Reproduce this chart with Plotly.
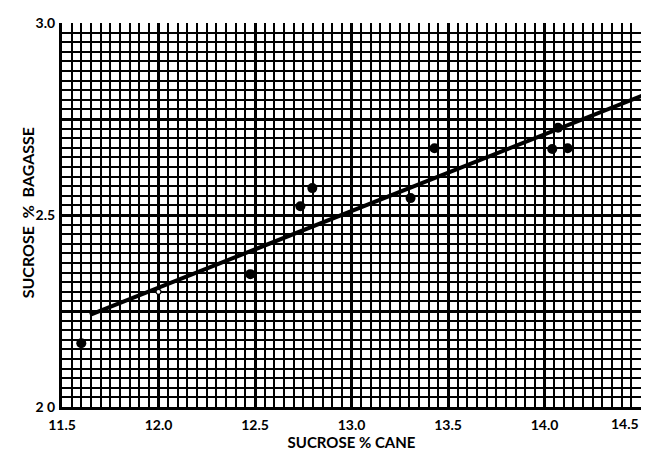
import plotly.graph_objects as go

# Data
cane_filled = [11.60, 12.476, 12.735, 12.797, 13.306, 13.43, 14.04, 14.07, 14.12]
bagasse_filled = [2.166, 2.346, 2.523, 2.570, 2.544, 2.674, 2.672, 2.727, 2.674]
cane_open = [12.00]
bagasse_open = [2.300]
fit_cane = [11.645, 14.515]
fit_bagasse = [2.240, 2.8125]

x_tickvals = [11.5, 12.0, 12.5, 13.0, 13.5, 14.0, 14.5]
x_ticktext = ["11.5", "12.0", "12.5", "13.0", "13.5", "14.0", ""]
x_last_val = 14.5
x_last_text = "14.5"
y_tickvals = [2.0, 2.25, 2.5, 2.75, 3.0]
y_ticktext = ["2 0", "", "2.5", "", "3.0"]

FONT = "Lato"

fig = go.Figure()
fig.add_trace(go.Scatter(
    x=fit_cane, y=fit_bagasse, mode="lines",
    line=dict(color="black", width=4), cliponaxis=False, showlegend=False))
fig.add_trace(go.Scatter(
    x=cane_filled, y=bagasse_filled, mode="markers",
    marker=dict(color="black", size=10, line=dict(width=0)), showlegend=False))
fig.add_trace(go.Scatter(
    x=cane_open, y=bagasse_open, mode="markers",
    marker=dict(color="white", size=5, line=dict(color="black", width=1.2)),
    showlegend=False))

fig.update_layout(
    width=646, height=454,
    margin=dict(l=62, r=5, t=23, b=47, autoexpand=False),
    paper_bgcolor="white", plot_bgcolor="white",
    font=dict(family=FONT, color="black", size=13),
    xaxis=dict(
        range=[11.5, 14.5], tickvals=x_tickvals, ticktext=x_ticktext,
        showgrid=True, gridcolor="black", gridwidth=2.6,
        minor=dict(dtick=0.05, tick0=11.5, showgrid=True, gridcolor="black", gridwidth=1.8),
        showline=True, linecolor="black", linewidth=3, mirror=False,
        ticks="", zeroline=False, automargin=False, ticklabeloverflow="allow",
        ticklabelstandoff=3,
        tickfont=dict(family=FONT, size=14, color="black", weight="bold"),
        title=dict(text="SUCROSE % CANE", font=dict(family=FONT, size=15, color="black", weight="bold"), standoff=5),
    ),
    yaxis=dict(
        range=[2.0, 3.0], tickvals=y_tickvals, ticktext=y_ticktext,
        showgrid=True, gridcolor="black", gridwidth=2.6,
        minor=dict(dtick=0.025, tick0=2.0, showgrid=True, gridcolor="black", gridwidth=1.8),
        showline=True, linecolor="black", linewidth=3, mirror=False,
        ticks="", zeroline=False, ticklabelstandoff=1, automargin=False,
        ticklabeloverflow="allow",
        tickfont=dict(family=FONT, size=14, color="black", weight="bold"),
        title=dict(text=""),
    ),
    annotations=[
        dict(
            text="SUCROSE\u00a0\u00a0%\u00a0\u00a0BAGASSE", textangle=-90, showarrow=False,
            xref="paper", yref="paper", x=-0.06, y=0.505, xanchor="center", yanchor="middle",
            font=dict(family=FONT, size=16, color="black", weight="bold")),
        dict(
            text=x_last_text, showarrow=False,
            xref="x", yref="paper", x=x_last_val, y=0, xanchor="right", yanchor="top",
            xshift=0, yshift=-6,
            font=dict(family=FONT, size=14, color="black", weight="bold")),
    ],
)

fig.write_html("out.html", post_script="document.body.style.margin='0';",
               config={"displayModeBar": False})
